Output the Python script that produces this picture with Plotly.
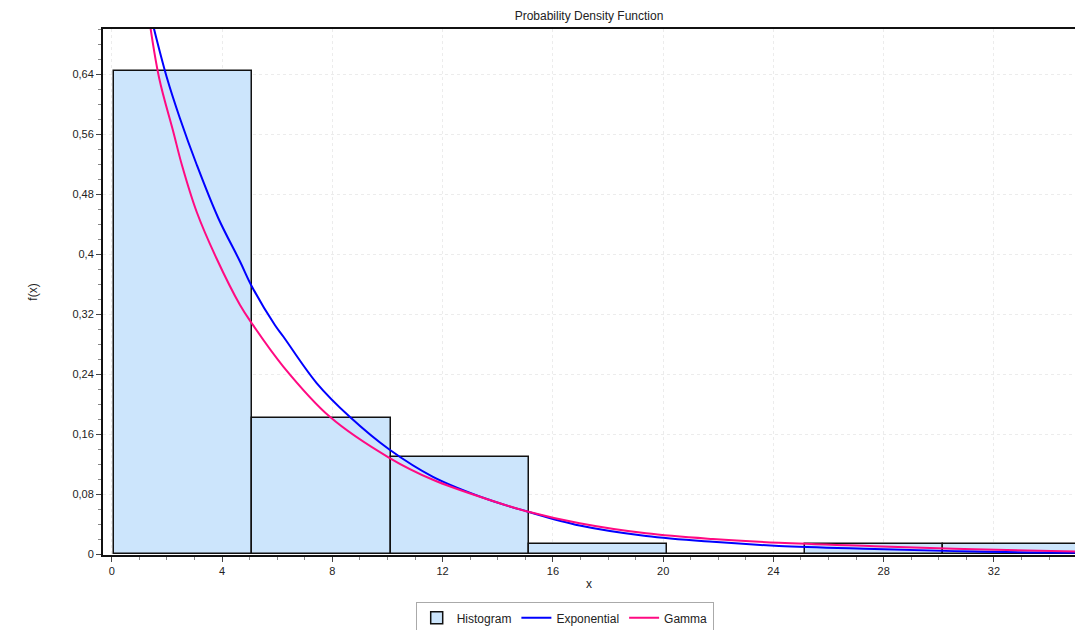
import plotly.graph_objects as go

# Histogram bins
bin_start = [0.09, 5.10, 10.11, 15.12, 20.13, 25.14, 30.15]
bin_width = 5.01
bin_height = [0.644, 0.182, 0.130, 0.0135, 0.0, 0.0135, 0.0135]

# Fitted curves
exp_x = [1.45, 1.99, 2.47, 3.08, 3.86, 4.65, 5.09, 5.92, 6.22, 7.43, 8.63, 10.08,
         11.65, 13.71, 15.04, 16.97, 19.38, 21.8, 24.2, 27.66, 31.28, 34.95]
exp_y = [0.712, 0.636, 0.581, 0.519, 0.448, 0.390, 0.356, 0.305, 0.290, 0.228, 0.183, 0.139,
         0.103, 0.072, 0.057, 0.038, 0.0240, 0.0162, 0.0108, 0.0068, 0.0033, 0.0017]

gam_x = [1.36, 1.72, 2.23, 2.54, 3.08, 3.80, 4.65, 5.07, 6.22, 7.91, 10.08,
         11.65, 13.71, 15.04, 16.97, 19.38, 21.8, 24.2, 27.66, 31.28, 34.95]
gam_y = [0.712, 0.634, 0.563, 0.519, 0.456, 0.394, 0.332, 0.308, 0.250, 0.183, 0.128,
         0.099, 0.072, 0.057, 0.041, 0.0276, 0.0200, 0.0150, 0.0105, 0.0062, 0.0035]

x_ticks = [0, 4, 8, 12, 16, 20, 24, 28, 32]
y_ticks = [0, 0.08, 0.16, 0.24, 0.32, 0.4, 0.48, 0.56, 0.64]
y_tick_text = ["0", "0,08", "0,16", "0,24", "0,32", "0,4", "0,48", "0,56", "0,64"]

fig = go.Figure()
fig.add_trace(go.Bar(
    x=[s + bin_width / 2 for s in bin_start], y=bin_height, width=[bin_width] * len(bin_start),
    name="Histogram", marker=dict(color="#cce5fc", line=dict(color="#111111", width=1.5)),
))
fig.add_trace(go.Scatter(x=exp_x, y=exp_y, mode="lines", name="Exponential",
                         line=dict(color="#0000ff", width=2, shape="spline")))
fig.add_trace(go.Scatter(x=gam_x, y=gam_y, mode="lines", name="Gamma",
                         line=dict(color="#ff0a82", width=2, shape="spline")))

fig.update_layout(
    width=1075, height=630,
    paper_bgcolor="white", plot_bgcolor="white",
    font=dict(family="Liberation Sans, Arial, sans-serif", size=11, color="#222222"),
    margin=dict(l=103, r=0, t=29, b=75, autoexpand=False),
    bargap=0,
    showlegend=True,
    title=dict(text="Probability Density Function", x=0.5, xref="paper", y=0.975, yanchor="middle",
               font=dict(size=12, color="#222222")),
    legend=dict(orientation="h", x=0.475, xanchor="center", y=-0.09, yanchor="top",
                bordercolor="#aaaaaa", borderwidth=1, font=dict(size=12),
                itemwidth=30, tracegroupgap=0),
)
fig.update_xaxes(
    range=[-0.32, 34.94], tickvals=x_ticks, ticktext=[str(v) for v in x_ticks],
    ticks="outside", ticklen=5, tickcolor="#444444", automargin=False,
    minor=dict(dtick=1, ticks="outside", ticklen=3, tickcolor="#888888", showgrid=False),
    showline=True, linecolor="#111111", linewidth=2, mirror=True,
    showgrid=True, gridcolor="#ececec", griddash="dot", zeroline=False,
    title=dict(text="x", standoff=3, font=dict(size=12)),
)
fig.update_yaxes(
    range=[-0.0013, 0.7], tickvals=y_ticks, ticktext=y_tick_text,
    ticks="outside", ticklen=5, tickcolor="#444444", automargin=False,
    minor=dict(dtick=0.02, tick0=0, ticks="outside", ticklen=3, tickcolor="#888888", showgrid=False),
    showline=True, linecolor="#111111", linewidth=2,
    showgrid=True, gridcolor="#ececec", griddash="dot", zeroline=False,
    title=dict(text="f(x)", standoff=32, font=dict(size=12)),
)

fig.write_html("out.html", config={"displayModeBar": False},
               post_script="document.body.style.margin='0';document.body.style.overflow='hidden';")
